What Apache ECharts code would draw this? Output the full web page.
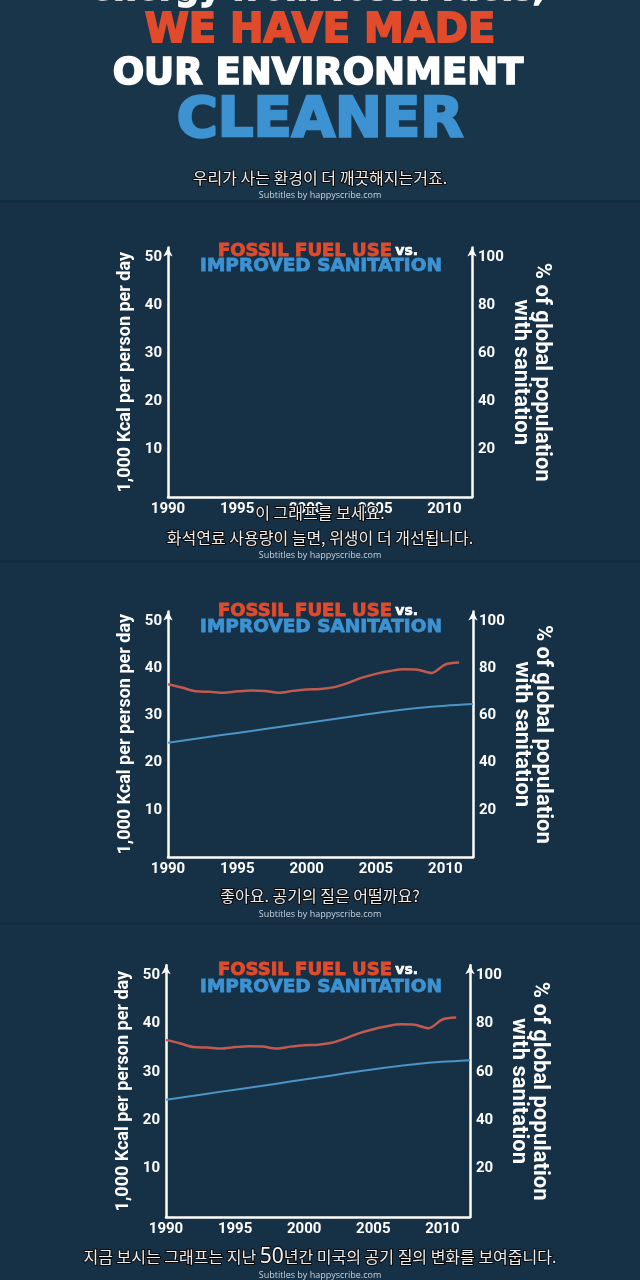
<!DOCTYPE html>
<html>
<head>
<meta charset="utf-8">
<script src="https://cdn.jsdelivr.net/npm/echarts@6/dist/echarts.min.js"></script>
<style>
  html, body { margin: 0; padding: 0; background: #163046; }
  #main { width: 640px; height: 1280px; }
</style>
</head>
<body>
<div id="main"></div>
<script>
// 화석연료 사용량 (1,000 Kcal / 인 / 일)
const fuelYears = [1990, 1991, 1992, 1993, 1994, 1995, 1996, 1997, 1998, 1999, 2000,
  2001, 2002, 2003, 2004, 2005, 2006, 2007, 2008, 2009, 2010, 2011];
const fossilFuel = [36.6, 35.9, 35.1, 35.0, 34.8, 35.1, 35.3, 35.2, 34.8, 35.2, 35.5,
  35.6, 36.0, 36.9, 38.0, 38.8, 39.4, 39.8, 39.7, 39.0, 40.8, 41.2];

// 위생시설 개선 인구 비율 (%)
const sanYears = [1990, 1992, 1994, 1996, 1998, 2000, 2002, 2004, 2006, 2008, 2010, 2012];
const sanitation = [48.4, 50.1, 51.8, 53.4, 55.1, 56.8, 58.5, 60.2, 61.8, 63.1, 64.1, 64.8];

const subtitles = [
  '우리가 사는 환경이 더 깨끗해지는거죠.',
  '이 그래프를 보세요.',
  '화석연료 사용량이 늘면, 위생이 더 개선됩니다.',
  '좋아요. 공기의 질은 어떨까요?',
  '지금 보시는 그래프는 지난 50년간 미국의 공기 질의 변화를 보여줍니다.'
];

const HEAVY = 'DejaVu Sans';
const RED = '#e14b2c';
const BLUE = '#3d92d2';

const chart = echarts.init(document.getElementById('main'));

// 차트 3개 위치 (패널 2,3,4)
const grids = [
  { left: 168, right: 168, top: 247.5, height: 249.5 },
  { left: 168, right: 167, top: 611.6, height: 245.4 },
  { left: 166, right: 170, top: 965.3, height: 251.7 }
];

const axisLine = { show: true, lineStyle: { color: '#fff', width: 2.5 } };
const tickFont = { color: '#fff', fontFamily: 'Roboto', fontWeight: 'bold', fontSize: 15 };

const xAxis = grids.map((g, i) => ({
  type: 'value', gridIndex: i, min: 1990, max: 2012, interval: 5,
  axisLine: axisLine, axisTick: { show: false }, splitLine: { show: false },
  axisLabel: Object.assign({ margin: 5, showMaxLabel: false,
    formatter: v => (v % 5 === 0 && v <= 2010) ? v : '' }, tickFont)
}));

const yAxis = [];
grids.forEach((g, i) => {
  yAxis.push({
    type: 'value', gridIndex: i, min: 0, max: 52, interval: 10, position: 'left',
    axisLine: Object.assign({ symbol: ['none', 'arrow'], symbolSize: [7, 9] }, axisLine),
    axisTick: { show: false }, splitLine: { show: false },
    axisLabel: Object.assign({ margin: 6, formatter: v => (v > 0 && v % 10 === 0) ? v : '' }, tickFont),
    name: '1,000 Kcal per person per day', nameLocation: 'middle', nameRotate: 90, nameGap: 34,
    nameTextStyle: { color: '#fff', fontFamily: 'Roboto', fontWeight: 'bold', fontSize: 18 }
  });
  yAxis.push({
    type: 'value', gridIndex: i, min: 0, max: 104, interval: 20, position: 'right',
    axisLine: Object.assign({ symbol: ['none', 'arrow'], symbolSize: [7, 9] }, axisLine),
    axisTick: { show: false }, splitLine: { show: false },
    axisLabel: Object.assign({ margin: 6, formatter: v => (v > 0 && v % 20 === 0) ? v : '' }, tickFont),
    name: '% of global population\nwith sanitation', nameLocation: 'middle', nameRotate: -90, nameGap: 38,
    nameTextStyle: { color: '#fff', fontFamily: 'Roboto', fontWeight: 'bold', fontSize: 22, lineHeight: 21 }
  });
});

const series = [];
[1, 2].forEach(i => {
  series.push({
    type: 'line', xAxisIndex: i, yAxisIndex: i * 2, smooth: 0.3, symbol: 'none',
    lineStyle: { color: '#c25a50', width: 2.5 },
    data: fuelYears.map((y, k) => [y, fossilFuel[k]])
  });
  series.push({
    type: 'line', xAxisIndex: i, yAxisIndex: i * 2 + 1, smooth: 0.3, symbol: 'none',
    lineStyle: { color: '#4c93c6', width: 2 },
    data: sanYears.map((y, k) => [y, sanitation[k]])
  });
});

function txt(x, y, text, font, fill, extra) {
  return {
    type: 'text', x: x, y: y, z: 10,
    style: Object.assign({ text: text, font: font, fill: fill, textAlign: 'center', textVerticalAlign: 'middle' }, extra || {})
  };
}
function heavy(x, y, text, size, fill, extra) {
  return txt(x, y, text, 'bold ' + size + 'px "' + HEAVY + '"', fill,
    Object.assign({ stroke: fill, lineWidth: size / 22 }, extra || {}));
}
function sub(y, text) {
  return txt(320, y, text.replace('50', '{b|50}'), '16px "Noto Sans CJK KR"', '#ececec', {
    stroke: '#0b0b0b', lineWidth: 2,
    rich: { b: { font: '21px "Noto Sans"', fill: '#f4f4f4', stroke: '#0b0b0b', lineWidth: 2 } }
  });
}
function credit(y) {
  return txt(320, y, 'Subtitles by happyscribe.com', '9px "Open Sans"', '#c8d3dc');
}
function chartTitle(y1, y2) {
  return [
    txt(318, y1, '{r|FOSSIL FUEL USE} {w|vs.}', '', '#fff', {
      rich: {
        r: { fill: RED, stroke: RED, lineWidth: 0.9, font: 'bold 18px "' + HEAVY + '"' },
        w: { fill: '#fff', stroke: '#fff', lineWidth: 0.6, font: 'bold 14px "' + HEAVY + '"' }
      }
    }),
    heavy(321, y2, 'IMPROVED SANITATION', 18.5, BLUE)
  ];
}

const graphic = [
  { type: 'rect', shape: { x: 0, y: 0, width: 640, height: 200 }, style: { fill: '#183549' }, z: 0 },
  { type: 'rect', shape: { x: 0, y: 200, width: 640, height: 3 }, style: { fill: '#132b3e' }, z: 0 },
  { type: 'rect', shape: { x: 0, y: 560, width: 640, height: 3 }, style: { fill: '#132b3e' }, z: 0 },
  { type: 'rect', shape: { x: 0, y: 922, width: 640, height: 3 }, style: { fill: '#132b3e' }, z: 0 },
  heavy(318, 8, 'energy from fossil fuels,', 33, '#fff', { textVerticalAlign: 'bottom' }),
  heavy(320, 32, 'WE HAVE MADE', 40, RED),
  heavy(318, 74, 'OUR ENVIRONMENT', 37, '#fff'),
  heavy(320, 121, 'CLEANER', 56, BLUE),
  sub(178, subtitles[0]),
  credit(195),
  sub(513, subtitles[1]),
  sub(538, subtitles[2]),
  credit(555),
  sub(896, subtitles[3]),
  credit(914),
  sub(1257, subtitles[4]),
  credit(1275)
].concat(chartTitle(251, 266), chartTitle(611, 627), chartTitle(970, 987));

chart.setOption({
  backgroundColor: '#163046',
  animation: false,
  grid: grids,
  xAxis: xAxis,
  yAxis: yAxis,
  series: series,
  graphic: graphic
});
</script>
</body>
</html>
